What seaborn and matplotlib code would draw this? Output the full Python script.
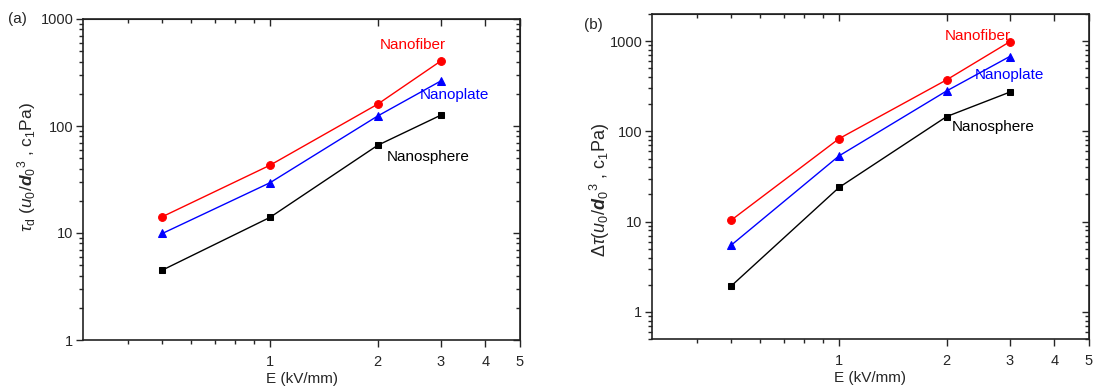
import numpy as np
import pandas as pd
import matplotlib
matplotlib.use("Agg")
import matplotlib.pyplot as plt
import seaborn as sns
from matplotlib.ticker import FixedLocator, NullFormatter, LogLocator

sns.set_style("ticks")
plt.rcParams['font.family'] = ['Liberation Sans', 'DejaVu Sans']
plt.rcParams['mathtext.fontset'] = 'custom'
plt.rcParams['mathtext.rm'] = 'Liberation Sans'
plt.rcParams['mathtext.it'] = 'Liberation Sans:italic'
plt.rcParams['mathtext.bf'] = 'Liberation Sans:bold:italic'

# ---- data ----
E = [0.5, 1, 2, 3]
series_names = ["Nanofiber", "Nanoplate", "Nanosphere"]
tau_d_fiber = [14.2, 43, 160, 404]
tau_d_plate = [9.9, 29.5, 124, 263]
tau_d_sphere = [4.5, 14, 66, 126]
dtau_fiber = [10.4, 83, 373, 983]
dtau_plate = [5.5, 53.5, 281, 675]
dtau_sphere = [1.94, 23.9, 146, 272]
x_major = [1, 2, 3, 4, 5]
x_minor = [0.4, 0.5, 0.6, 0.7, 0.8, 0.9]

colors = {"Nanofiber": "#ff0000", "Nanoplate": "#0000ff", "Nanosphere": "#000000"}
markers = {"Nanofiber": "o", "Nanoplate": "^", "Nanosphere": "s"}
msizes = {"Nanofiber": 5.6, "Nanoplate": 6.4, "Nanosphere": 4.8}

fig = plt.figure(figsize=(10.99, 3.88), dpi=100)
axA = fig.add_axes([83/1099, 48/388, 437/1099, 321/388])
axB = fig.add_axes([652/1099, 49/388, 437/1099, 325/388])

def draw(ax, vals):
    for name, v in zip(series_names, vals):
        df = pd.DataFrame({"E": E, "v": v})
        sns.lineplot(data=df, x="E", y="v", ax=ax, color=colors[name],
                     marker=markers[name], markersize=msizes[name],
                     markeredgecolor=colors[name], linewidth=1.0, legend=False)

draw(axA, [tau_d_fiber, tau_d_plate, tau_d_sphere])
draw(axB, [dtau_fiber, dtau_plate, dtau_sphere])

def style(ax, ylim, yticks):
    ax.set_xscale('log')
    ax.set_yscale('log')
    ax.set_xlim(0.3, 5)
    ax.set_ylim(*ylim)
    ax.xaxis.set_major_locator(FixedLocator(x_major))
    ax.xaxis.set_minor_locator(FixedLocator(x_minor))
    ax.set_xticklabels([str(t) for t in x_major])
    ax.xaxis.set_minor_formatter(NullFormatter())
    ax.yaxis.set_major_locator(FixedLocator(yticks))
    ax.set_yticklabels([str(t) for t in yticks])
    ax.yaxis.set_minor_locator(LogLocator(base=10, subs=np.arange(2, 10)))
    ax.yaxis.set_minor_formatter(NullFormatter())
    for s in ax.spines.values():
        s.set_linewidth(1.2)
        s.set_color('#222222')
    ax.tick_params(axis='y', which='major', direction='out', length=5, width=1.0, labelsize=10.5, pad=2)
    ax.tick_params(axis='x', which='major', direction='out', length=5, width=1.0, labelsize=10.5, pad=6)
    ax.tick_params(which='minor', direction='out', length=3, width=1.0)
    ax.set_xlabel("E (kV/mm)", fontsize=11, labelpad=2)
    # mirrored ticks, inward
    top = ax.secondary_xaxis('top')
    top.xaxis.set_major_locator(FixedLocator(x_major))
    top.xaxis.set_minor_locator(FixedLocator(x_minor))
    top.xaxis.set_major_formatter(NullFormatter())
    top.xaxis.set_minor_formatter(NullFormatter())
    top.tick_params(which='major', direction='in', length=5, width=1.0)
    top.tick_params(which='minor', direction='in', length=3, width=1.0)
    right = ax.secondary_yaxis('right')
    right.yaxis.set_major_locator(FixedLocator(yticks))
    right.yaxis.set_minor_locator(LogLocator(base=10, subs=np.arange(2, 10)))
    right.yaxis.set_major_formatter(NullFormatter())
    right.yaxis.set_minor_formatter(NullFormatter())
    right.tick_params(which='major', direction='in', length=5, width=1.0)
    right.tick_params(which='minor', direction='in', length=3, width=1.0)

style(axA, (1, 1000), [1, 10, 100, 1000])
style(axB, (0.5, 2000), [1, 10, 100, 1000])

axA.set_ylabel(r'$\tau_\mathrm{d}$ ($u_0$/$\mathbf{d}_0$$^3$ , c$_1$Pa)', fontsize=12.5)
axB.set_ylabel(r'$\mathit{\Delta\tau}$($u_0$/$\mathbf{d}_0$$^3$ , c$_1$Pa)', fontsize=13)
axA.yaxis.set_label_coords(-0.103, 0.539)
axB.yaxis.set_label_coords(-0.092, 0.458)

tfs = 11
axA.text(2.03, 571, "Nanofiber", color=colors["Nanofiber"], fontsize=tfs, ha='left', va='center')
axA.text(2.62, 195, "Nanoplate", color=colors["Nanoplate"], fontsize=tfs, ha='left', va='center')
axA.text(2.12, 51, "Nanosphere", color=colors["Nanosphere"], fontsize=tfs, ha='left', va='center')
axB.text(1.98, 1130, "Nanofiber", color=colors["Nanofiber"], fontsize=tfs, ha='left', va='center')
axB.text(2.40, 418, "Nanoplate", color=colors["Nanoplate"], fontsize=tfs, ha='left', va='center')
axB.text(2.07, 111, "Nanosphere", color=colors["Nanosphere"], fontsize=tfs, ha='left', va='center')

fig.text(8/1099, 1 - 19/388, "(a)", fontsize=11, ha='left', va='center')
fig.text(584/1099, 1 - 25/388, "(b)", fontsize=11, ha='left', va='center')

fig.savefig("out.png", dpi=100)
